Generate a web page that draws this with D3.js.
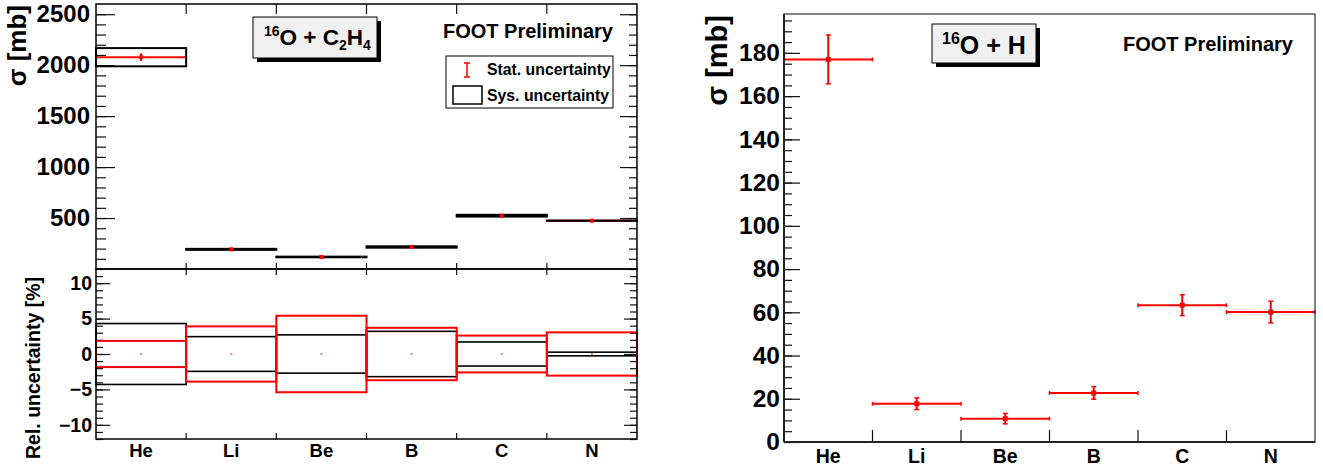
<!DOCTYPE html>
<html>
<head>
<meta charset="utf-8">
<script src="https://cdn.jsdelivr.net/npm/d3@7"></script>
<style>
  body { margin: 0; background: #fff; }
  svg { display: block; }
  text { font-family: "Liberation Sans", Arial, Helvetica, sans-serif; font-weight: bold; fill: #000; }
</style>
</head>
<body>
<svg id="chart" width="1323" height="474"></svg>
<script>
// fragment charges
var categories = ["He", "Li", "Be", "B", "C", "N"];

// 16O + C2H4 cross sections [mb] and relative uncertainties [%]
var sigmaC2H4 = [2078, 193, 118, 216, 523, 474];
var statPctC2H4 = [1.85, 3.9, 5.4, 3.7, 2.6, 3.05];
var sysPctC2H4 = [4.3, 2.45, 2.7, 3.2, 1.7, 0.26];

// 16O + H cross sections [mb] and stat errors [mb]
var sigmaH = [177, 17.7, 10.8, 22.7, 63.3, 60.1];
var statH = [11.3, 2.7, 2.4, 2.9, 4.8, 5.0];

// tick labels
var ticksTop = [500, 1000, 1500, 2000, 2500];
var ticksRel = [-10, -5, 0, 5, 10];
var ticksH = [0, 20, 40, 60, 80, 100, 120, 140, 160, 180];

var svg = d3.select("#chart");
var RED = "#ff0000";

// pad geometry
var L = { x0: 96, x1: 637, top: 4, mid: 269, bot: 439 };
var R = { x0: 784, x1: 1315, top: 14, bot: 442 };

var xL = d3.scaleBand().domain(categories).range([L.x0, L.x1]);
var yTop = d3.scaleLinear().domain([0, 2600]).range([L.mid, L.top]);
var yRel = d3.scaleLinear().domain([-12, 12]).range([L.bot, L.mid]);

var xR = d3.scaleBand().domain(categories).range([R.x0, R.x1]);
var yH = d3.scaleLinear().domain([0, 198]).range([R.bot, R.top]);

function fmtMinus(d) { return d < 0 ? "\u2212" + Math.abs(d) : "" + d; }

function yAxes(g, scale, x0, x1, major, minor, majLen, minLen, rMaj, rMin, fontSize, pad) {
	g.append("g")
		.attr("transform", "translate(" + x0 + ",0)")
		.call(d3.axisLeft(scale).tickValues(minor).tickSizeInner(-minLen).tickSizeOuter(0).tickFormat(""));
	var ax = g.append("g")
		.attr("transform", "translate(" + x0 + ",0)")
		.call(d3.axisLeft(scale).tickValues(major).tickSizeInner(-majLen).tickSizeOuter(0).tickPadding(pad).tickFormat(fmtMinus));
	ax.selectAll("text").style("font-size", fontSize + "px");
	if (rMaj) {
		g.append("g")
			.attr("transform", "translate(" + x1 + ",0)")
			.call(d3.axisRight(scale).tickValues(minor).tickSizeInner(-rMin).tickSizeOuter(0).tickFormat(""));
		g.append("g")
			.attr("transform", "translate(" + x1 + ",0)")
			.call(d3.axisRight(scale).tickValues(major).tickSizeInner(-rMaj).tickSizeOuter(0).tickFormat(""));
	}
	g.selectAll(".domain").remove();
	g.selectAll(".tick line").attr("stroke", "#111").attr("stroke-width", 1.2);
}

function edgeTicks(g, xs, y, len) {
	g.selectAll(null)
		.data(categories.slice(1))
		.enter()
		.append("line")
		.attr("x1", function(d) { return xs(d); })
		.attr("x2", function(d) { return xs(d); })
		.attr("y1", y)
		.attr("y2", y + len)
		.attr("stroke", "#111")
		.attr("stroke-width", 1.2);
}

function catLabels(g, xs, y, size, pad) {
	var ax = g.append("g")
		.attr("transform", "translate(0," + y + ")")
		.call(d3.axisBottom(xs).tickSize(0).tickPadding(pad));
	ax.select(".domain").remove();
	ax.selectAll("text").style("font-size", size + "px");
}

function titleBox(x, y, w, h, parts, tx, ty) {
	svg.append("rect").attr("x", x + 4).attr("y", y + 4).attr("width", w).attr("height", h).attr("fill", "#000");
	svg.append("rect").attr("x", x).attr("y", y).attr("width", w).attr("height", h)
		.attr("fill", "#f0f0f0").attr("stroke", "#000").attr("stroke-width", 1);
	var t = svg.append("text").attr("x", tx).attr("y", ty);
	parts.forEach(function(p) {
		t.append("tspan").attr("dy", p[2]).style("font-size", p[1] + "px").text(p[0]);
	});
}

// ================= left top: 16O + C2H4
var gTop = svg.append("g").attr("class", "TopPad");
yAxes(gTop, yTop, L.x0, L.x1, ticksTop, d3.range(100, 2600, 100), 19, 10, 17, 8, 24, 6);
edgeTicks(gTop, xL, L.top, 10);
edgeTicks(gTop, xL, L.mid, -6);

var bw = xL.bandwidth();

// stat error (red)
gTop.selectAll(".hbar").data(categories).enter().append("line")
	.attr("x1", function(d) { return xL(d); })
	.attr("x2", function(d) { return xL(d) + bw; })
	.attr("y1", function(d, i) { return yTop(sigmaC2H4[i]); })
	.attr("y2", function(d, i) { return yTop(sigmaC2H4[i]); })
	.attr("stroke", RED).attr("stroke-width", 2);
gTop.selectAll(".vbar").data(categories).enter().append("line")
	.attr("x1", function(d) { return xL(d) + bw / 2; })
	.attr("x2", function(d) { return xL(d) + bw / 2; })
	.attr("y1", function(d, i) { return yTop(sigmaC2H4[i] * (1 + statPctC2H4[i] / 100)); })
	.attr("y2", function(d, i) { return yTop(sigmaC2H4[i] * (1 - statPctC2H4[i] / 100)); })
	.attr("stroke", RED).attr("stroke-width", 2);

// sys box (black)
gTop.selectAll(".sys").data(categories).enter().append("rect")
	.attr("x", function(d) { return xL(d); })
	.attr("width", bw)
	.attr("y", function(d, i) { return yTop(sigmaC2H4[i] * (1 + sysPctC2H4[i] / 100)); })
	.attr("height", function(d, i) {
		return yTop(sigmaC2H4[i] * (1 - sysPctC2H4[i] / 100)) - yTop(sigmaC2H4[i] * (1 + sysPctC2H4[i] / 100));
	})
	.attr("fill", "none").attr("stroke", "#000").attr("stroke-width", 2);

gTop.selectAll(".mk").data(categories).enter().append("rect")
	.attr("x", function(d) { return xL(d) + bw / 2 - 2; })
	.attr("y", function(d, i) { return yTop(sigmaC2H4[i]) - 2; })
	.attr("width", 4).attr("height", 4).attr("fill", RED);

// ================= left bottom: relative uncertainties
var gRel = svg.append("g").attr("class", "RelPad");
yAxes(gRel, yRel, L.x0, L.x1, ticksRel, d3.range(-12, 13, 1), 14, 7, 13, 7, 19.5, 4);
edgeTicks(gRel, xL, L.mid, 6);
edgeTicks(gRel, xL, L.bot, -6);

gRel.selectAll(".rsys").data(categories).enter().append("rect")
	.attr("x", function(d) { return xL(d); })
	.attr("width", bw)
	.attr("y", function(d, i) { return yRel(sysPctC2H4[i]); })
	.attr("height", function(d, i) { return yRel(-sysPctC2H4[i]) - yRel(sysPctC2H4[i]); })
	.attr("fill", "none").attr("stroke", "#000").attr("stroke-width", 1.6);

gRel.selectAll(".rstat").data(categories).enter().append("rect")
	.attr("x", function(d) { return xL(d); })
	.attr("width", bw)
	.attr("y", function(d, i) { return yRel(statPctC2H4[i]); })
	.attr("height", function(d, i) { return yRel(-statPctC2H4[i]) - yRel(statPctC2H4[i]); })
	.attr("fill", "none").attr("stroke", RED).attr("stroke-width", 2);

gRel.selectAll(".rdot").data(categories).enter().append("rect")
	.attr("x", function(d) { return xL(d) + bw / 2 - 1; })
	.attr("y", yRel(0) - 0.5)
	.attr("width", 2).attr("height", 1).attr("fill", RED);

catLabels(gRel, xL, L.bot, 18.5, 5);

// frames
svg.append("rect").attr("x", L.x0).attr("y", L.top).attr("width", L.x1 - L.x0).attr("height", L.mid - L.top)
	.attr("fill", "none").attr("stroke", "#000").attr("stroke-width", 1.5);
svg.append("rect").attr("x", L.x0).attr("y", L.mid).attr("width", L.x1 - L.x0).attr("height", L.bot - L.mid)
	.attr("fill", "none").attr("stroke", "#000").attr("stroke-width", 1.5);

// titles
svg.append("text").attr("transform", "translate(26,5) rotate(-90)").attr("text-anchor", "end")
	.style("font-size", "26px").text("\u03c3 [mb]");
svg.append("text").attr("transform", "translate(40,277) rotate(-90)").attr("text-anchor", "end")
	.style("font-size", "19.5px").text("Rel. uncertainty [%]");

titleBox(253, 17, 124, 41, [["16", 14, -9], ["O + C", 22.5, 9], ["2", 14, 5], ["H", 22.5, -5], ["4", 14, 5]], 264, 45);

svg.append("text").attr("x", 613).attr("y", 38).attr("text-anchor", "end").style("font-size", "20px").text("FOOT Preliminary");

// legend
var lg = svg.append("g").attr("class", "Legend");
lg.append("rect").attr("x", 446).attr("y", 56).attr("width", 167).attr("height", 52)
	.attr("fill", "#fff").attr("stroke", "#000").attr("stroke-width", 1);
lg.append("line").attr("x1", 467).attr("x2", 467).attr("y1", 63).attr("y2", 77).attr("stroke", RED).attr("stroke-width", 1.5);
lg.append("line").attr("x1", 464).attr("x2", 470).attr("y1", 63).attr("y2", 63).attr("stroke", RED).attr("stroke-width", 1.5);
lg.append("line").attr("x1", 464).attr("x2", 470).attr("y1", 77).attr("y2", 77).attr("stroke", RED).attr("stroke-width", 1.5);
lg.append("rect").attr("x", 453).attr("y", 86).attr("width", 29).attr("height", 18)
	.attr("fill", "none").attr("stroke", "#000").attr("stroke-width", 1.5);
lg.append("text").attr("x", 487).attr("y", 75).style("font-size", "15.8px").text("Stat. uncertainty");
lg.append("text").attr("x", 487).attr("y", 101).style("font-size", "15.8px").text("Sys. uncertainty");

// ================= right: 16O + H
var gH = svg.append("g").attr("class", "HPad");
yAxes(gH, yH, R.x0, R.x1, ticksH, d3.range(0, 200, 5), 16, 8, 0, 0, 24.5, 4);
edgeTicks(gH, xR, R.bot, -12);

var bwR = xR.bandwidth();
gH.selectAll(".hb").data(categories).enter().append("line")
	.attr("x1", function(d) { return xR(d); })
	.attr("x2", function(d) { return xR(d) + bwR; })
	.attr("y1", function(d, i) { return yH(sigmaH[i]); })
	.attr("y2", function(d, i) { return yH(sigmaH[i]); })
	.attr("stroke", RED).attr("stroke-width", 2);
[0, 1].forEach(function(side) {
	gH.selectAll(".hc" + side).data(categories).enter().append("line")
		.attr("x1", function(d) { return xR(d) + side * bwR; })
		.attr("x2", function(d) { return xR(d) + side * bwR; })
		.attr("y1", function(d, i) { return yH(sigmaH[i]) - 2; })
		.attr("y2", function(d, i) { return yH(sigmaH[i]) + 2; })
		.attr("stroke", RED).attr("stroke-width", 1.5);
});
gH.selectAll(".vb").data(categories).enter().append("line")
	.attr("x1", function(d) { return xR(d) + bwR / 2; })
	.attr("x2", function(d) { return xR(d) + bwR / 2; })
	.attr("y1", function(d, i) { return yH(sigmaH[i] + statH[i]); })
	.attr("y2", function(d, i) { return yH(sigmaH[i] - statH[i]); })
	.attr("stroke", RED).attr("stroke-width", 2);
[1, -1].forEach(function(s, k) {
	gH.selectAll(".vc" + k).data(categories).enter().append("line")
		.attr("x1", function(d) { return xR(d) + bwR / 2 - 2.5; })
		.attr("x2", function(d) { return xR(d) + bwR / 2 + 2.5; })
		.attr("y1", function(d, i) { return yH(sigmaH[i] + s * statH[i]); })
		.attr("y2", function(d, i) { return yH(sigmaH[i] + s * statH[i]); })
		.attr("stroke", RED).attr("stroke-width", 1.5);
});
gH.selectAll(".mkh").data(categories).enter().append("rect")
	.attr("x", function(d) { return xR(d) + bwR / 2 - 2.5; })
	.attr("y", function(d, i) { return yH(sigmaH[i]) - 2.5; })
	.attr("width", 5).attr("height", 5).attr("fill", RED);

catLabels(gH, xR, R.bot, 19.5, 7);

svg.append("rect").attr("x", R.x0).attr("y", R.top).attr("width", R.x1 - R.x0).attr("height", R.bot - R.top)
	.attr("fill", "none").attr("stroke", "#333").attr("stroke-width", 1.2);
svg.append("line").attr("x1", R.x0).attr("x2", R.x1).attr("y1", R.bot).attr("y2", R.bot).attr("stroke", "#222").attr("stroke-width", 2);
svg.append("line").attr("x1", R.x0).attr("x2", R.x0).attr("y1", R.top).attr("y2", R.bot).attr("stroke", "#222").attr("stroke-width", 2);

svg.append("text").attr("transform", "translate(727,15) rotate(-90)").attr("text-anchor", "end")
	.style("font-size", "29px").text("\u03c3 [mb]");

titleBox(932, 24, 104, 39, [["16", 16, -10], ["O + H", 25, 10]], 942, 54);

svg.append("text").attr("x", 1293).attr("y", 51).attr("text-anchor", "end").style("font-size", "20px").text("FOOT Preliminary");
</script>
</body>
</html>
